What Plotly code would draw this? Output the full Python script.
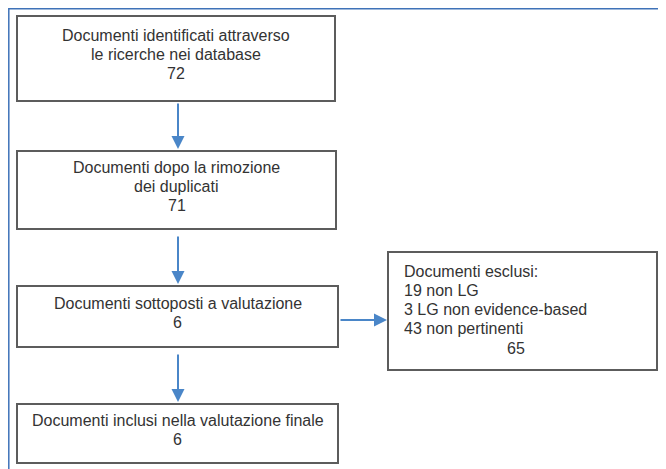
import plotly.graph_objects as go

# testi e conteggi del diagramma di flusso
box_titles = [
    ["Documenti identificati attraverso", "le ricerche nei database"],
    ["Documenti dopo la rimozione", "dei duplicati"],
    ["Documenti sottoposti a valutazione"],
    ["Documenti inclusi nella valutazione finale"],
]
box_counts = [72, 71, 6, 6]

excluded_title = "Documenti esclusi:"
excluded_reasons = ["non LG", "LG non evidence-based", "non pertinenti"]
excluded_counts = [19, 3, 43]
excluded_total = 65

# geometria (pixel): x0, y0, x1, y1
box_geom = [(17, 16, 335, 101), (17, 151, 336, 229), (17, 286, 338, 347), (17, 404, 338, 463)]
excl_geom = (388, 252, 657, 370)
arrow_x = 178
LINE_H = 19

# la pagina ha un margine di 8px: la figura parte da (8, 8)
OFFSET = 8

FONT = dict(family="Liberation Sans, Arial, sans-serif", size=16, color="#333333")
BOX_LINE = dict(color="#5c5c5c", width=2)
ARROW_COLOR = "#4a86c8"

fig = go.Figure()
shapes = []
annotations = []


def add_text(x, y, text, anchor="center"):
    annotations.append(dict(x=x, y=y, xref="x", yref="y", text=text, showarrow=False,
                            font=FONT, xanchor=anchor, yanchor="middle"))


# cornice blu esterna
shapes.append(dict(type="path", path="M 8.8 480 L 8.8 8.8 L 670 8.8",
                   line=dict(color="#3f72b8", width=1.5), xref="x", yref="y"))

for (x0, y0, x1, y1), title, n in zip(box_geom, box_titles, box_counts):
    shapes.append(dict(type="rect", x0=x0, y0=y0, x1=x1, y1=y1, xref="x", yref="y",
                       line=BOX_LINE, fillcolor="white"))
    lines = title + [str(n)]
    cy = (y0 + y1) / 2 - 4
    for i, txt in enumerate(lines):
        add_text((x0 + x1) / 2, cy + (i - (len(lines) - 1) / 2) * LINE_H, txt)

# frecce verticali
for (_, _, _, y_top), (_, y_next, _, _) in zip(box_geom[:-1], box_geom[1:]):
    start = y_top + 6 if y_top > 200 else y_top + 1
    annotations.append(dict(x=arrow_x, y=y_next - 2, ax=arrow_x, ay=start,
                            xref="x", yref="y", axref="x", ayref="y", text="",
                            showarrow=True, arrowhead=2, arrowsize=1.3, arrowwidth=2,
                            arrowcolor=ARROW_COLOR, standoff=0))

# riquadro esclusi
ex0, ey0, ex1, ey1 = excl_geom
shapes.append(dict(type="rect", x0=ex0, y0=ey0, x1=ex1, y1=ey1, xref="x", yref="y",
                   line=BOX_LINE, fillcolor="white"))
excl_lines = [excluded_title] + [f"{c} {r}" for c, r in zip(excluded_counts, excluded_reasons)]
for i, txt in enumerate(excl_lines):
    add_text(ex0 + 14, ey0 + 19 + i * LINE_H, txt, anchor="left")
add_text(516, ey0 + 19 + len(excl_lines) * LINE_H + 1, str(excluded_total))

# freccia orizzontale verso gli esclusi
b3 = box_geom[2]
annotations.append(dict(x=ex0 - 1, y=320, ax=b3[2] + 1, ay=320,
                        xref="x", yref="y", axref="x", ayref="y", text="",
                        showarrow=True, arrowhead=2, arrowsize=1.3, arrowwidth=2,
                        arrowcolor=ARROW_COLOR, standoff=0))

fig.update_layout(
    width=666, height=469,
    margin=dict(l=0, r=0, t=0, b=0),
    paper_bgcolor="white", plot_bgcolor="white",
    xaxis=dict(range=[OFFSET, 666 + OFFSET], visible=False, fixedrange=True),
    yaxis=dict(range=[469 + OFFSET, OFFSET], visible=False, fixedrange=True),
    shapes=shapes, annotations=annotations,
    showlegend=False,
)

fig.write_html("out.html")
